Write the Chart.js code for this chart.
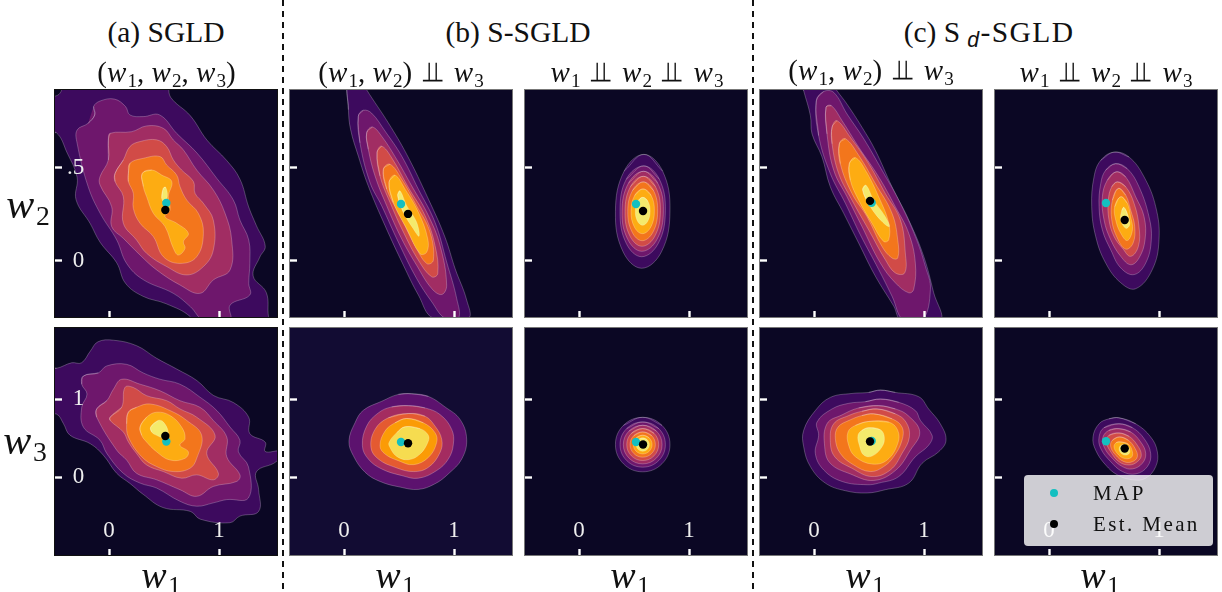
<!DOCTYPE html>
<html>
<head>
<meta charset="utf-8">
<title>Posterior contours</title>
<script src="https://cdn.jsdelivr.net/npm/chart.js@4/dist/chart.umd.js"></script>
<style>
    html, body { margin: 0; padding: 0; background: #fff; }
    #page { position: relative; width: 1222px; height: 592px; overflow: hidden; font-family: "Liberation Serif", serif; color: #111; }
    .panel { position: absolute; width: 222px; height: 227px; outline: 1px solid #666; }
    .panel canvas { display: block; }
    .txt { position: absolute; transform: translate(-50%, -50%); white-space: nowrap; line-height: 1; }
    .txt i { font-style: italic; letter-spacing: 0.04em; }
    .txt sub { font-size: 0.66em; vertical-align: baseline; position: relative; top: 0.25em; line-height: 0; }
    .txt .spaced { letter-spacing: 1.4px; }
    .indep { display: inline-block; font-family: "DejaVu Sans", sans-serif; font-size: 0.95em; margin: 0 0.2em; transform: scaleX(1.4); }
    .dash { position: absolute; top: 0; width: 2px; height: 592px; background: repeating-linear-gradient(#111 0 6px, transparent 6px 11px); }
    #legend { position: absolute; left: 1024px; top: 475px; width: 189px; height: 71px; border-radius: 4px; background: rgba(255, 255, 255, 0.8); font-size: 21px; letter-spacing: 2.4px; }
    #legend span { position: absolute; left: 69px; line-height: 1; }
    #legend b { position: absolute; left: 26px; width: 8px; height: 8px; border-radius: 50%; }
</style>
</head>
<body>
<div id="page"></div>
<script>
'use strict';

var levelColors = ['#3d0a5e', '#6e176c', '#a12d63', '#d14b47', '#f3761c', '#fdac12', '#f4ea6c'];
var coarseColors = ['#5c126e', '#a42c60', '#e45a31', '#fb9b06', '#f6dc50'];

// contour outlines, outermost level first: [w1, w_y]
var sgldW2 = [
    [[-0.60,0.69],[-0.48,0.69],[-0.38,0.58],[-0.29,0.45],[-0.30,0.33],[-0.17,0.20],[-0.08,0.10],[0.07,-0.01],[0.15,-0.12],[0.31,-0.19],[0.52,-0.23],[0.74,-0.30],[0.83,-0.39],[1.49,-0.39],[1.45,-0.30],[1.43,-0.17],[1.31,-0.08],[1.37,0.02],[1.42,0.08],[1.34,0.19],[1.27,0.29],[1.19,0.44],[1.07,0.54],[0.89,0.65],[0.74,0.78],[0.56,0.88],[0.51,0.97],[-0.42,0.97],[-0.43,0.92],[-0.47,0.89],[-0.60,0.87]],
    [[-0.13,0.785],[-0.14,0.83],[-0.08,0.86],[0.05,0.87],[0.15,0.83],[0.19,0.785],[0.31,0.776],[0.46,0.785],[0.615,0.686],[0.80,0.58],[0.98,0.444],[1.13,0.328],[1.19,0.22],[1.27,0.113],[1.28,-0.013],[1.27,-0.12],[1.28,-0.183],[1.10,-0.237],[1.10,-0.317],[0.86,-0.317],[0.74,-0.246],[0.585,-0.174],[0.31,-0.10],[0.16,-0.013],[0.07,0.113],[-0.08,0.256],[-0.19,0.40],[-0.29,0.633],[-0.29,0.704],[-0.19,0.74]],
    [[-0.006,0.65],[0.01,0.686],[0.206,0.695],[0.342,0.726],[0.494,0.713],[0.585,0.65],[0.676,0.597],[0.797,0.489],[0.948,0.382],[1.055,0.256],[1.115,0.113],[1.10,-0.048],[0.948,-0.102],[0.827,-0.174],[0.645,-0.129],[0.433,-0.048],[0.282,0.032],[0.13,0.122],[0.024,0.185],[0.024,0.292],[-0.082,0.409],[-0.082,0.453],[-0.006,0.543]],
    [[0.055,0.471],[0.13,0.543],[0.19,0.615],[0.282,0.642],[0.433,0.651],[0.524,0.615],[0.585,0.543],[0.66,0.489],[0.767,0.427],[0.782,0.364],[0.858,0.31],[0.948,0.22],[0.948,0.059],[0.858,-0.03],[0.706,-0.075],[0.524,-0.03],[0.342,0.041],[0.25,0.113],[0.13,0.203],[0.13,0.346],[0.055,0.427]],
    [[0.176,0.471],[0.19,0.525],[0.312,0.552],[0.464,0.561],[0.524,0.516],[0.615,0.462],[0.645,0.40],[0.706,0.328],[0.812,0.256],[0.858,0.149],[0.797,0.023],[0.645,-0.013],[0.494,0.023],[0.403,0.131],[0.282,0.203],[0.221,0.283],[0.221,0.364],[0.176,0.427]],
    [[0.303,0.471],[0.388,0.489],[0.479,0.462],[0.57,0.427],[0.539,0.346],[0.555,0.274],[0.509,0.238],[0.615,0.203],[0.721,0.149],[0.676,0.104],[0.691,0.068],[0.63,0.032],[0.585,0.068],[0.509,0.185],[0.403,0.256],[0.342,0.346],[0.312,0.40]],
    [[0.494,0.391],[0.515,0.396],[0.53,0.346],[0.50,0.319],[0.479,0.337]]
];
var sgldW3 = [
    [[-0.60,1.40],[-0.476,1.40],[-0.34,1.47],[-0.25,1.47],[-0.17,1.62],[-0.10,1.74],[0.04,1.76],[0.25,1.69],[0.43,1.53],[0.615,1.39],[0.80,1.24],[0.95,1.05],[1.13,0.96],[1.27,0.77],[1.28,0.56],[1.42,0.45],[1.42,0.33],[1.555,0.33],[1.52,0.20],[1.34,0.07],[1.36,-0.16],[1.36,-0.44],[1.19,-0.50],[1.10,-0.585],[0.83,-0.54],[0.74,-0.44],[0.49,-0.39],[0.31,-0.22],[0.19,-0.08],[0.07,0.05],[-0.05,0.28],[-0.17,0.43],[-0.355,0.54],[-0.415,0.69],[-0.476,0.81],[-0.60,0.81]],
    [[-0.233,1.30],[-0.097,1.34],[-0.02,1.43],[0.16,1.45],[0.31,1.34],[0.46,1.26],[0.645,1.195],[0.83,1.025],[0.98,0.856],[1.10,0.644],[1.19,0.475],[1.176,0.326],[1.267,0.136],[1.267,-0.267],[1.07,-0.288],[0.948,-0.33],[0.797,-0.373],[0.645,-0.31],[0.433,-0.14],[0.282,-0.076],[0.13,0.05],[-0.02,0.305],[-0.082,0.475],[-0.233,0.644],[-0.248,0.898],[-0.20,1.068],[-0.248,1.195]],
    [[-0.112,0.877],[-0.02,0.983],[0.04,1.13],[0.115,1.258],[0.282,1.195],[0.464,1.11],[0.645,0.983],[0.827,0.898],[0.948,0.729],[1.07,0.517],[1.07,0.263],[1.19,0.03],[1.16,-0.055],[0.948,-0.119],[0.797,-0.246],[0.645,-0.161],[0.433,-0.034],[0.25,0.05],[0.16,0.22],[0.07,0.347],[-0.112,0.771]],
    [[0.01,0.771],[0.115,0.898],[0.145,1.153],[0.22,1.153],[0.342,1.047],[0.524,0.983],[0.645,0.877],[0.797,0.771],[0.964,0.538],[0.888,0.305],[0.994,0.05],[0.948,-0.034],[0.797,0.03],[0.66,-0.013],[0.494,0.072],[0.342,0.157],[0.25,0.305],[0.176,0.453],[0.13,0.58],[0.01,0.729]],
    [[0.176,0.835],[0.25,0.898],[0.373,0.941],[0.555,0.856],[0.706,0.729],[0.842,0.538],[0.797,0.242],[0.736,0.114],[0.585,0.072],[0.433,0.136],[0.297,0.263],[0.176,0.517],[0.16,0.686]],
    [[0.282,0.644],[0.342,0.771],[0.433,0.835],[0.555,0.792],[0.66,0.644],[0.691,0.496],[0.645,0.411],[0.721,0.326],[0.691,0.242],[0.555,0.22],[0.433,0.326],[0.327,0.475],[0.297,0.538]],
    [[0.379,0.644],[0.448,0.729],[0.494,0.708],[0.539,0.58],[0.524,0.496],[0.433,0.538],[0.388,0.58]]
];
var sSgldJointW2 = [
    [[0.04,0.973],[0.04,0.813],[0.06,0.706],[0.13,0.564],[0.22,0.404],[0.373,0.19],[0.54,-0.023],[0.676,-0.183],[0.812,-0.308],[1.13,-0.308],[1.115,-0.21],[1.01,-0.041],[0.918,0.128],[0.767,0.333],[0.57,0.573],[0.403,0.742],[0.206,0.92],[0.16,0.973]],
    [[0.13,0.778],[0.176,0.81],[0.25,0.795],[0.373,0.698],[0.524,0.564],[0.676,0.386],[0.827,0.208],[0.933,-0.005],[1.024,-0.201],[1.04,-0.308],[0.918,-0.308],[0.797,-0.219],[0.66,-0.094],[0.494,0.101],[0.342,0.297],[0.236,0.422],[0.145,0.635]],
    [[0.206,0.689],[0.258,0.72],[0.342,0.671],[0.479,0.546],[0.615,0.404],[0.767,0.244],[0.873,0.084],[0.933,-0.13],[0.888,-0.18],[0.797,-0.148],[0.66,-0.023],[0.524,0.119],[0.388,0.297],[0.282,0.457],[0.221,0.60]],
    [[0.30,0.582],[0.342,0.617],[0.433,0.555],[0.585,0.395],[0.736,0.244],[0.827,0.084],[0.852,-0.068],[0.797,-0.085],[0.676,0.004],[0.54,0.155],[0.418,0.315],[0.327,0.457]],
    [[0.358,0.493],[0.418,0.52],[0.524,0.44],[0.66,0.297],[0.782,0.155],[0.812,0.004],[0.752,-0.014],[0.645,0.084],[0.509,0.244],[0.388,0.386]],
    [[0.409,0.422],[0.464,0.461],[0.555,0.386],[0.676,0.262],[0.761,0.119],[0.752,0.048],[0.691,0.039],[0.57,0.173],[0.448,0.315]],
    [[0.488,0.351],[0.509,0.377],[0.57,0.297],[0.66,0.208],[0.682,0.133],[0.63,0.173],[0.539,0.262]]
];
var sSgldJointW3 = [
    [[0.615,1.072],[0.767,1.038],[0.918,0.903],[1.055,0.742],[1.115,0.487],[1.07,0.233],[0.948,0.042],[0.827,-0.085],[0.676,-0.157],[0.509,-0.127],[0.327,-0.055],[0.191,0.064],[0.085,0.275],[0.045,0.466],[0.10,0.699],[0.176,0.86],[0.342,0.975],[0.494,1.064]],
    [[0.585,0.919],[0.736,0.89],[0.873,0.805],[0.979,0.614],[0.994,0.424],[0.948,0.233],[0.842,0.085],[0.676,-0.013],[0.524,0.021],[0.342,0.106],[0.221,0.233],[0.167,0.403],[0.206,0.657],[0.312,0.826],[0.433,0.903]],
    [[0.585,0.818],[0.736,0.784],[0.827,0.657],[0.888,0.487],[0.873,0.318],[0.767,0.127],[0.63,0.072],[0.464,0.127],[0.312,0.233],[0.245,0.381],[0.282,0.614],[0.403,0.763]],
    [[0.57,0.754],[0.721,0.699],[0.827,0.572],[0.842,0.445],[0.767,0.254],[0.63,0.161],[0.494,0.212],[0.373,0.297],[0.327,0.403],[0.373,0.593],[0.464,0.699]],
    [[0.555,0.648],[0.691,0.623],[0.761,0.551],[0.767,0.466],[0.691,0.297],[0.585,0.225],[0.479,0.267],[0.418,0.381],[0.409,0.445],[0.479,0.572]]
];
var sSgldFactorW2 = [
    [[0.59,0.573],[0.76,0.483],[0.827,0.27],[0.75,0.05],[0.57,-0.039],[0.40,0.05],[0.331,0.265],[0.41,0.483]],
    [[0.589,0.511],[0.73,0.44],[0.785,0.27],[0.72,0.094],[0.569,0.023],[0.43,0.094],[0.373,0.264],[0.43,0.44]],
    [[0.587,0.482],[0.715,0.419],[0.767,0.27],[0.708,0.115],[0.571,0.052],[0.444,0.115],[0.391,0.265],[0.45,0.419]],
    [[0.585,0.455],[0.695,0.40],[0.74,0.27],[0.69,0.134],[0.573,0.079],[0.463,0.134],[0.418,0.265],[0.468,0.40]],
    [[0.584,0.425],[0.677,0.379],[0.715,0.268],[0.672,0.155],[0.574,0.109],[0.483,0.155],[0.443,0.266],[0.486,0.379]],
    [[0.582,0.387],[0.656,0.352],[0.685,0.268],[0.652,0.182],[0.576,0.147],[0.504,0.182],[0.473,0.266],[0.506,0.352]],
    [[0.58,0.342],[0.627,0.32],[0.646,0.267],[0.625,0.214],[0.578,0.192],[0.532,0.214],[0.512,0.267],[0.533,0.32]]
];
var sSgldFactorW3 = [
    [[0.579,0.769],[0.754,0.666],[0.827,0.419],[0.754,0.172],[0.579,0.069],[0.404,0.172],[0.331,0.419],[0.404,0.666]],
    [[0.579,0.709],[0.725,0.624],[0.785,0.419],[0.725,0.214],[0.579,0.129],[0.433,0.214],[0.373,0.419],[0.433,0.624]],
    [[0.579,0.667],[0.703,0.594],[0.755,0.419],[0.703,0.244],[0.579,0.171],[0.455,0.244],[0.403,0.419],[0.455,0.594]],
    [[0.579,0.624],[0.682,0.564],[0.724,0.419],[0.682,0.274],[0.579,0.214],[0.476,0.274],[0.434,0.419],[0.476,0.564]],
    [[0.579,0.581],[0.66,0.534],[0.694,0.419],[0.66,0.304],[0.579,0.257],[0.498,0.304],[0.464,0.419],[0.498,0.534]],
    [[0.579,0.539],[0.639,0.504],[0.664,0.419],[0.639,0.334],[0.579,0.299],[0.519,0.334],[0.494,0.419],[0.519,0.504]],
    [[0.579,0.504],[0.621,0.479],[0.639,0.419],[0.621,0.359],[0.579,0.334],[0.537,0.359],[0.519,0.419],[0.537,0.479]]
];
var sdSgldJointW2 = [
    [[-0.115,0.968],[-0.094,0.915],[-0.033,0.781],[-0.018,0.683],[0.073,0.559],[0.148,0.399],[0.27,0.256],[0.406,0.096],[0.558,-0.082],[0.724,-0.242],[0.80,-0.322],[1.148,-0.322],[1.088,-0.171],[0.997,0.025],[0.861,0.221],[0.709,0.399],[0.558,0.594],[0.436,0.719],[0.30,0.843],[0.209,0.915],[0.148,0.968]],
    [[0.021,0.861],[0.088,0.911],[0.179,0.906],[0.30,0.79],[0.452,0.657],[0.618,0.488],[0.77,0.327],[0.921,0.132],[1.012,-0.028],[1.058,-0.153],[0.982,-0.322],[0.815,-0.322],[0.709,-0.189],[0.588,-0.046],[0.421,0.141],[0.285,0.31],[0.148,0.47],[0.042,0.674]],
    [[0.109,0.826],[0.158,0.835],[0.255,0.754],[0.406,0.612],[0.588,0.452],[0.739,0.292],[0.861,0.149],[0.921,-0.011],[0.906,-0.153],[0.861,-0.171],[0.739,-0.117],[0.603,-0.011],[0.436,0.185],[0.30,0.345],[0.179,0.488],[0.118,0.683]],
    [[0.164,0.719],[0.209,0.754],[0.33,0.665],[0.497,0.523],[0.648,0.363],[0.785,0.221],[0.83,0.043],[0.824,-0.064],[0.739,-0.064],[0.648,0.007],[0.497,0.167],[0.345,0.327],[0.224,0.47],[0.164,0.63]],
    [[0.23,0.63],[0.285,0.657],[0.406,0.568],[0.558,0.416],[0.709,0.256],[0.761,0.114],[0.761,0.016],[0.709,0.016],[0.618,0.078],[0.482,0.238],[0.345,0.363],[0.239,0.523]],
    [[0.321,0.523],[0.376,0.555],[0.467,0.488],[0.588,0.345],[0.679,0.203],[0.679,0.114],[0.633,0.105],[0.527,0.203],[0.406,0.327],[0.33,0.434]],
    [[0.442,0.381],[0.473,0.407],[0.542,0.327],[0.648,0.238],[0.685,0.185],[0.618,0.212],[0.512,0.292]]
];
var sdSgldJointW3 = [
    [[0.603,1.119],[0.739,1.089],[0.952,1.034],[1.042,0.877],[1.148,0.686],[1.2,0.475],[1.133,0.326],[0.982,0.178],[0.861,-0.076],[0.648,-0.161],[0.482,-0.203],[0.285,-0.174],[0.103,-0.076],[-0.033,0.136],[-0.094,0.39],[-0.094,0.602],[0.012,0.856],[0.148,1.025],[0.345,1.076],[0.497,1.089]],
    [[0.603,1.004],[0.77,0.962],[0.921,0.856],[0.967,0.729],[1.073,0.538],[1.042,0.411],[0.921,0.263],[0.77,0.008],[0.588,-0.076],[0.482,-0.097],[0.255,-0.055],[0.088,0.093],[0.012,0.305],[0.042,0.538],[0.027,0.708],[0.164,0.877],[0.315,0.949],[0.467,0.97]],
    [[0.588,0.919],[0.739,0.877],[0.855,0.792],[0.961,0.581],[0.876,0.347],[0.739,0.085],[0.542,-0.042],[0.33,0.042],[0.148,0.178],[0.097,0.39],[0.118,0.686],[0.255,0.801],[0.406,0.89]],
    [[0.573,0.877],[0.739,0.814],[0.836,0.708],[0.867,0.517],[0.80,0.305],[0.694,0.093],[0.527,0.008],[0.345,0.114],[0.188,0.263],[0.148,0.475],[0.179,0.686],[0.315,0.792],[0.436,0.847]],
    [[0.542,0.814],[0.709,0.75],[0.80,0.644],[0.80,0.475],[0.724,0.263],[0.633,0.136],[0.512,0.072],[0.361,0.157],[0.239,0.305],[0.194,0.496],[0.218,0.644],[0.33,0.737],[0.436,0.792]],
    [[0.497,0.716],[0.679,0.708],[0.761,0.602],[0.761,0.432],[0.664,0.22],[0.527,0.169],[0.376,0.263],[0.315,0.411],[0.309,0.581],[0.376,0.665]],
    [[0.497,0.636],[0.603,0.61],[0.639,0.517],[0.618,0.39],[0.527,0.271],[0.452,0.284],[0.412,0.411],[0.40,0.538],[0.436,0.602]]
];
var sdSgldFactorW2 = [
    [[0.591,0.585],[0.727,0.559],[0.864,0.452],[0.97,0.292],[1.0,0.114],[0.939,-0.046],[0.788,-0.149],[0.652,-0.117],[0.515,-0.011],[0.424,0.132],[0.388,0.292],[0.409,0.452],[0.47,0.541]],
    [[0.606,0.523],[0.712,0.496],[0.818,0.399],[0.909,0.238],[0.93,0.114],[0.879,-0.011],[0.773,-0.073],[0.652,-0.037],[0.561,0.06],[0.485,0.167],[0.455,0.292],[0.47,0.416],[0.515,0.488]],
    [[0.612,0.479],[0.697,0.452],[0.788,0.345],[0.864,0.238],[0.873,0.114],[0.818,0.016],[0.742,-0.02],[0.652,0.025],[0.561,0.114],[0.50,0.221],[0.485,0.345],[0.53,0.434]],
    [[0.621,0.425],[0.697,0.399],[0.773,0.31],[0.818,0.185],[0.812,0.078],[0.742,0.025],[0.667,0.069],[0.591,0.132],[0.545,0.221],[0.539,0.327],[0.57,0.399]],
    [[0.63,0.39],[0.697,0.354],[0.742,0.274],[0.779,0.185],[0.764,0.096],[0.697,0.064],[0.621,0.123],[0.57,0.221],[0.576,0.327]],
    [[0.652,0.345],[0.712,0.31],[0.742,0.238],[0.758,0.167],[0.712,0.11],[0.652,0.149],[0.606,0.221],[0.597,0.292]],
    [[0.682,0.288],[0.721,0.238],[0.733,0.194],[0.697,0.176],[0.652,0.221],[0.661,0.27]]
];
var sdSgldFactorW3 = [
    [[0.636,0.763],[0.788,0.686],[0.924,0.517],[0.985,0.326],[0.97,0.136],[0.879,-0.013],[0.758,-0.034],[0.621,0.03],[0.515,0.157],[0.424,0.347],[0.40,0.517],[0.455,0.686],[0.545,0.75]],
    [[0.636,0.686],[0.758,0.636],[0.864,0.496],[0.924,0.305],[0.894,0.136],[0.788,0.042],[0.667,0.072],[0.561,0.199],[0.47,0.369],[0.455,0.517],[0.50,0.636]],
    [[0.636,0.623],[0.742,0.581],[0.833,0.453],[0.879,0.305],[0.848,0.178],[0.758,0.106],[0.667,0.136],[0.576,0.242],[0.50,0.39],[0.491,0.517],[0.545,0.602]],
    [[0.636,0.568],[0.727,0.525],[0.803,0.411],[0.839,0.284],[0.803,0.199],[0.727,0.157],[0.636,0.199],[0.561,0.326],[0.521,0.453],[0.545,0.538]],
    [[0.642,0.517],[0.721,0.475],[0.782,0.369],[0.803,0.263],[0.758,0.199],[0.682,0.199],[0.606,0.284],[0.561,0.39],[0.576,0.475]],
    [[0.652,0.453],[0.721,0.424],[0.758,0.326],[0.748,0.254],[0.682,0.242],[0.621,0.305],[0.591,0.39],[0.612,0.445]],
    [[0.682,0.419],[0.721,0.39],[0.733,0.314],[0.691,0.284],[0.645,0.326],[0.642,0.39]]
];

// one entry per panel, left to right, top row then bottom row
var panelLevels = [sgldW2, sSgldJointW2, sSgldFactorW2, sdSgldJointW2, sdSgldFactorW2, sgldW3, sSgldJointW3, sSgldFactorW3, sdSgldJointW3, sdSgldFactorW3];
var mapPoints = [[0.521,0.312],[0.518,0.306],[0.518,0.306],[0.524,0.313],[0.518,0.312],[0.521,0.458],[0.518,0.453],[0.518,0.453],[0.524,0.465],[0.518,0.462]];
var meanPoints = [[0.512,0.274],[0.582,0.253],[0.582,0.269],[0.509,0.323],[0.688,0.22],[0.512,0.53],[0.582,0.436],[0.582,0.419],[0.509,0.458],[0.688,0.368]];

var xTicks = [0, 1];
var yTicksTop = [0, 0.5];
var yTicksBottom = [0, 1];
var xRange = [-0.491, 1.527];
var yRangeTop = [-0.301, 0.919];
var yRangeBottom = [-1.0, 1.917];

var panelLefts = [55, 290, 525, 760, 995];
var rowTops = [90, 328];

var Figure = (function () {
    var page = document.getElementById('page');

    var flatten = function (scale) {
        scale.paddingLeft = 0;
        scale.paddingRight = 0;
        scale.paddingTop = 0;
        scale.paddingBottom = 0;
    };

    var tickOptions = function (values, showLabels, padding) {
        return {
            type: 'linear',
            afterBuildTicks: function (scale) {
                scale.ticks = values.map(function (value) {
                    return { value: value };
                });
            },
            border: { display: false },
            grid: { drawOnChartArea: false, tickColor: '#fff', tickWidth: 2.4, z: 1 },
            ticks: {
                display: showLabels,
                mirror: true,
                autoSkip: false,
                maxRotation: 0,
                padding: padding,
                color: '#eee',
                z: 1,
                font: { family: '"Liberation Serif", serif', size: 23 }
            }
        };
    };

    // closes an outline, wrapping one point past each end so the spline has no corner at the seam
    var closeOutline = function (outline) {
        return [outline[outline.length - 1]].concat(outline, [outline[0], outline[1]]);
    };

    var drawPanel = function (index) {
        var column = index % 5;
        var row = Math.floor(index / 5);
        var coarse = index === 6;
        var colors = coarse ? coarseColors : levelColors;
        var holder = document.createElement('div');
        var canvas = document.createElement('canvas');

        holder.className = 'panel';
        holder.style.left = panelLefts[column] + 'px';
        holder.style.top = rowTops[row] + 'px';
        holder.style.background = coarse ? '#120c33' : '#0b0724';
        holder.style.outlineColor = column === 0 ? '#111' : '#777';
        canvas.width = 222;
        canvas.height = 227;
        holder.appendChild(canvas);
        page.appendChild(holder);

        var contours = panelLevels[index].map(function (outline, level) {
            return {
                data: closeOutline(outline),
                showLine: true,
                fill: 'shape',
                tension: 0.4,
                pointRadius: 0,
                backgroundColor: colors[level],
                borderColor: 'rgba(255, 255, 255, 0.3)',
                borderWidth: 0.8
            };
        }).reverse();

        var markers = [
            { label: 'Est. Mean', data: [meanPoints[index]], pointRadius: 4.2, pointBackgroundColor: '#000', pointBorderWidth: 0 },
            { label: 'MAP', data: [mapPoints[index]], pointRadius: 4.2, pointBackgroundColor: '#13bfc0', pointBorderWidth: 0 }
        ];

        var xAxis = tickOptions(xTicks, row === 1, 10);
        var yAxis = tickOptions(row === 0 ? yTicksTop : yTicksBottom, column === 0, 12);

        xAxis.min = xRange[0];
        xAxis.max = xRange[1];
        xAxis.grid.tickLength = -6;
        xAxis.afterFit = function (scale) {
            scale.height = 0;
            flatten(scale);
        };
        yAxis.min = row === 0 ? yRangeTop[0] : yRangeBottom[0];
        yAxis.max = row === 0 ? yRangeTop[1] : yRangeBottom[1];
        yAxis.grid.tickLength = -7;
        yAxis.ticks.callback = function (value) {
            return value === 0.5 ? '.5' : ' ' + value;
        };
        yAxis.afterFit = function (scale) {
            scale.width = 0;
            flatten(scale);
        };

        return new Chart(canvas, {
            type: 'scatter',
            data: { datasets: markers.concat(contours) },
            options: {
                responsive: false,
                animation: false,
                devicePixelRatio: 1,
                events: [],
                layout: { padding: 0, autoPadding: false },
                plugins: { legend: { display: false }, tooltip: { enabled: false } },
                scales: { x: xAxis, y: yAxis }
            }
        });
    };

    var addText = function (html, x, y, size) {
        var node = document.createElement('div');
        node.className = 'txt';
        node.innerHTML = html;
        node.style.left = x + 'px';
        node.style.top = y + 'px';
        node.style.fontSize = size + 'px';
        page.appendChild(node);
        return node;
    };

    return { drawPanel: drawPanel, addText: addText, page: page };
})();

var indep = '<span class="indep">\u2AEB</span>';
var w1 = '<i>w</i><sub>1</sub>';
var w2 = '<i>w</i><sub>2</sub>';
var w3 = '<i>w</i><sub>3</sub>';

var groupTitles = [
    ['(a) SGLD', 166, 33],
    ['(b) S-SGLD', 518, 33],
    ['(c) <span class="spaced">S<sub style="font-family:\'Liberation Sans\',sans-serif;font-style:italic;font-size:0.72em">&thinsp;d</sub>-SGLD</span>', 989, 33]
];
var subTitles = [
    ['(' + w1 + ', ' + w2 + ', ' + w3 + ')', 166.5, 72],
    ['(' + w1 + ', ' + w2 + ') ' + indep + ' ' + w3, 401, 72],
    [w1 + ' ' + indep + ' ' + w2 + ' ' + indep + ' ' + w3, 637, 72],
    ['(' + w1 + ', ' + w2 + ') ' + indep + ' ' + w3, 871, 70],
    [w1 + ' ' + indep + ' ' + w2 + ' ' + indep + ' ' + w3, 1106, 72]
];
var xLabelCentres = [161, 395, 630, 865, 1100];

panelLevels.forEach(function (levels, index) {
    Figure.drawPanel(index);
});
groupTitles.forEach(function (t) { Figure.addText(t[0], t[1], t[2], 29.5); });
subTitles.forEach(function (t) { Figure.addText(t[0], t[1], t[2], 29); });
xLabelCentres.forEach(function (x) { Figure.addText(w1, x, 575, 38); });
Figure.addText(w2, 28, 204, 42);
Figure.addText(w3, 25, 440, 42);

[282, 752].forEach(function (x) {
    var line = document.createElement('div');
    line.className = 'dash';
    line.style.left = x + 'px';
    Figure.page.appendChild(line);
});

var legend = document.createElement('div');
legend.id = 'legend';
legend.innerHTML = '<b style="top:14px;background:#13bfc0"></b><span style="top:8px">MAP</span>' +
    '<b style="top:45px;background:#000"></b><span style="top:39px">Est. Mean</span>';
Figure.page.appendChild(legend);
</script>
</body>
</html>
